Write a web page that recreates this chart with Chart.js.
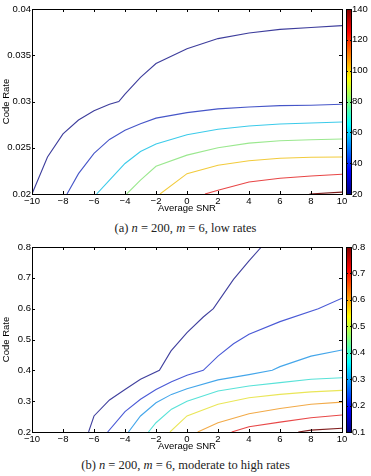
<!DOCTYPE html>
<html lang="en">

<head>
    <meta charset="UTF-8">
    <script src="https://cdn.jsdelivr.net/npm/chart.js"></script>
    <title>Code rate contours</title>
    <style>
        body { margin: 0; background: #fff; width: 371px; height: 476px; position: relative; overflow: hidden; }
        .plot { position: absolute; left: 0; width: 371px; height: 214px; }
        .caption { position: absolute; left: 0; width: 371px; text-align: center; font-family: "Liberation Serif", serif; font-size: 12.5px; color: #222; }
    </style>
</head>

<body>
    <div class="plot" style="top: 0px;"><canvas id="graficoA"></canvas></div>
    <div class="caption" style="top: 221px;">(a) <i>n</i> = 200, <i>m</i> = 6, low rates</div>
    <div class="plot" style="top: 238px;"><canvas id="graficoB"></canvas></div>
    <div class="caption" style="top: 458px;">(b) <i>n</i> = 200, <i>m</i> = 6, moderate to high rates</div>
</body>

</html>

<script>
    // (a) low rates - one pair of arrays per contour line
    var a1_snr = [-10, -9, -8, -7, -6, -5, -4.4, -4, -3, -2, 0, 2, 4, 6, 8, 10]
    var a1_rate = [0.02, 0.024, 0.0265, 0.028, 0.029, 0.0297, 0.030, 0.0308, 0.0326, 0.0341, 0.0357, 0.0368, 0.0374, 0.0378, 0.0380, 0.0382]
    var a2_snr = [-7.74, -7, -6, -5, -4, -3, -2, 0, 2, 4, 6, 8, 10]
    var a2_rate = [0.02, 0.0222, 0.0244, 0.0259, 0.0269, 0.0276, 0.0282, 0.0288, 0.0292, 0.0294, 0.02955, 0.0296, 0.0297]
    var a3_snr = [-5.83, -5, -4, -3, -2, 0, 2, 4, 6, 8, 10]
    var a3_rate = [0.02, 0.0215, 0.0233, 0.0246, 0.0254, 0.0264, 0.0270, 0.02735, 0.02757, 0.02768, 0.02778]
    var a4_snr = [-3.89, -3, -2, 0, 2, 4, 6, 8, 10]
    var a4_rate = [0.02, 0.0215, 0.0230, 0.0242, 0.0250, 0.0255, 0.02576, 0.02587, 0.02595]
    var a5_snr = [-1.74, 0, 2, 4, 6, 8, 10]
    var a5_rate = [0.02, 0.0222, 0.0231, 0.0236, 0.02386, 0.02397, 0.0240]
    var a6_snr = [1.16, 2, 4, 6, 8, 10]
    var a6_rate = [0.02, 0.0204, 0.0213, 0.0217, 0.02195, 0.02213]
    var a7_snr = [7.9, 10]
    var a7_rate = [0.02, 0.0202]
    var coresA = ['#3d3d9c', '#4656c8', '#3ccbea', '#9be88f', '#f2cb3c', '#e84646', '#7a1c1c']

    // (b) moderate to high rates
    var b1_snr = [-6.35, -6, -5, -4, -3, -1.78, -1.03, 0, 1.05, 1.7, 3, 4, 4.8]
    var b1_rate = [0.2, 0.252, 0.304, 0.338, 0.371, 0.4, 0.463, 0.522, 0.573, 0.6, 0.695, 0.755, 0.8]
    var b2_snr = [-5.12, -4, -3, -2, -1, 0, 1.05, 2, 3, 4, 6, 8.47, 10]
    var b2_rate = [0.2, 0.266, 0.306, 0.338, 0.363, 0.384, 0.4, 0.446, 0.486, 0.517, 0.558, 0.6, 0.634]
    var b3_snr = [-3.78, -3, -2, -1, 0, 2, 4, 5.5, 6, 8, 10]
    var b3_rate = [0.2, 0.252, 0.295, 0.322, 0.34, 0.369, 0.386, 0.4, 0.412, 0.446, 0.466]
    var b4_snr = [-2.49, -2, -1, 0, 2, 4, 6, 8, 10]
    var b4_rate = [0.2, 0.23, 0.274, 0.30, 0.333, 0.349, 0.36, 0.371, 0.376]
    var b5_snr = [-1.1, 0, 2, 4, 6, 8, 10]
    var b5_rate = [0.2, 0.252, 0.29, 0.311, 0.322, 0.33, 0.335]
    var b6_snr = [0.69, 2, 4, 6, 8, 10]
    var b6_rate = [0.2, 0.23, 0.259, 0.276, 0.29, 0.297]
    var b7_snr = [2.88, 4, 6, 8, 10]
    var b7_rate = [0.2, 0.217, 0.232, 0.246, 0.255]
    var b8_snr = [7.18, 8, 10]
    var b8_rate = [0.2, 0.206, 0.212]
    var coresB = ['#40409e', '#4a5ad6', '#44a6ea', '#58e2d8', '#eae658', '#f2aa48', '#e84848', '#801e1e']

    // eixos
    var snrTicks = [-10, -8, -6, -4, -2, 0, 2, 4, 6, 8, 10]
    var rateTicksA = [0.02, 0.025, 0.03, 0.035, 0.04]
    var rateTicksB = [0.2, 0.3, 0.4, 0.5, 0.6, 0.7, 0.8]
    var barraTicksA = [20, 40, 60, 80, 100, 120, 140]
    var barraTicksB = [0.1, 0.2, 0.3, 0.4, 0.5, 0.6, 0.7, 0.8]

    var fonte = { family: 'Liberation Sans', size: 9.5, lineHeight: 1 }

    function linha(xs, ys, cor) {
        return {
            data: xs.map((x, i) => ({ x: x, y: ys[i] })),
            borderColor: cor,
            borderWidth: 1.1,
            pointRadius: 0,
            fill: false,
            tension: 0
        }
    }

    function fixaTicks(lista) {
        return function (scale) {
            scale.ticks = lista.map(v => ({ value: v }))
        }
    }

    // moldura, ticks para dentro e barra de cores (jet)
    var molduraPlugin = {
        id: 'moldura',
        afterDraw(chart) {
            var ctx = chart.ctx, a = chart.chartArea, s = chart.scales
            ctx.save()
            ctx.strokeStyle = '#000'
            ctx.lineWidth = 1
            ctx.beginPath()
            s.x.ticks.forEach((t, i) => {
                var px = Math.round(s.x.getPixelForTick(i)) + 0.5
                ctx.moveTo(px, a.bottom); ctx.lineTo(px, a.bottom - 3)
                ctx.moveTo(px, a.top); ctx.lineTo(px, a.top + 3)
            })
            s.y.ticks.forEach((t, i) => {
                var py = Math.round(s.y.getPixelForTick(i)) + 0.5
                ctx.moveTo(a.left, py); ctx.lineTo(a.left + 3, py)
                ctx.moveTo(a.right, py); ctx.lineTo(a.right - 3, py)
            })
            ctx.stroke()
            ctx.strokeRect(Math.round(a.left) + 0.5, Math.round(a.top) + 0.5, Math.round(a.right - a.left), Math.round(a.bottom - a.top))

            // barra de cores
            var x0 = Math.round(a.right) + 4, w = 6
            var g = ctx.createLinearGradient(0, a.bottom, 0, a.top)
            g.addColorStop(0, '#000080')
            g.addColorStop(0.125, '#0000ff')
            g.addColorStop(0.375, '#00ffff')
            g.addColorStop(0.625, '#ffff00')
            g.addColorStop(0.875, '#ff0000')
            g.addColorStop(1, '#800000')
            ctx.fillStyle = g
            ctx.fillRect(x0, a.top, w, a.bottom - a.top)
            ctx.strokeStyle = '#000'
            ctx.strokeRect(x0 + 0.5, Math.round(a.top) + 0.5, w - 1, Math.round(a.bottom - a.top))
            ctx.beginPath()
            s.cb.ticks.forEach((t, i) => {
                var py = Math.round(s.cb.getPixelForTick(i)) + 0.5
                ctx.moveTo(x0, py); ctx.lineTo(x0 + 2, py)
                ctx.moveTo(x0 + w, py); ctx.lineTo(x0 + w - 2, py)
            })
            ctx.stroke()
            ctx.restore()
        }
    }

    function opcoes(yMin, yMax, yTicks, cbMin, cbMax, cbTicks) {
        return {
            responsive: true,
            maintainAspectRatio: false,
            animation: false,
            layout: { padding: { top: 9, left: 0, right: 0, bottom: 0 } },
            plugins: { legend: { display: false }, tooltip: { enabled: false } },
            scales: {
                x: {
                    type: 'linear',
                    min: -10,
                    max: 10,
                    afterBuildTicks: fixaTicks(snrTicks),
                    afterFit: s => { s.height = 20 },
                    grid: { drawOnChartArea: false, drawTicks: false },
                    border: { display: false },
                    ticks: {
                        color: '#000', font: fonte, padding: 3, maxRotation: 0,
                        callback: v => String(v).replace('-', '\u2212')
                    },
                    title: { display: true, text: 'Average SNR', color: '#000', font: fonte, padding: { top: 0, bottom: 1 } }
                },
                y: {
                    type: 'linear',
                    min: yMin,
                    max: yMax,
                    afterBuildTicks: fixaTicks(yTicks),
                    afterFit: s => { s.width = 32 },
                    grid: { drawOnChartArea: false, drawTicks: false },
                    border: { display: false },
                    ticks: { color: '#000', font: fonte, padding: 1, callback: v => String(+v.toFixed(3)) },
                    title: { display: true, text: 'Code Rate', color: '#000', font: fonte, padding: { top: 2, bottom: 0 } }
                },
                cb: {
                    type: 'linear',
                    position: 'right',
                    min: cbMin,
                    max: cbMax,
                    afterBuildTicks: fixaTicks(cbTicks),
                    afterFit: s => { s.width = 29 },
                    grid: { drawOnChartArea: false, drawTicks: true, tickLength: 10, color: 'transparent' },
                    border: { display: false },
                    ticks: { color: '#000', font: fonte, padding: 0, callback: v => String(+v.toFixed(2)) }
                }
            }
        }
    }

    var seriesA = [[a1_snr, a1_rate], [a2_snr, a2_rate], [a3_snr, a3_rate], [a4_snr, a4_rate], [a5_snr, a5_rate], [a6_snr, a6_rate], [a7_snr, a7_rate]]
    var graficoA = new Chart(document.getElementById('graficoA').getContext('2d'), {
        type: 'line',
        data: { datasets: seriesA.map((s, i) => linha(s[0], s[1], coresA[i])) },
        options: opcoes(0.02, 0.04, rateTicksA, 20, 140, barraTicksA),
        plugins: [molduraPlugin]
    });

    var seriesB = [[b1_snr, b1_rate], [b2_snr, b2_rate], [b3_snr, b3_rate], [b4_snr, b4_rate], [b5_snr, b5_rate], [b6_snr, b6_rate], [b7_snr, b7_rate], [b8_snr, b8_rate]]
    var graficoB = new Chart(document.getElementById('graficoB').getContext('2d'), {
        type: 'line',
        data: { datasets: seriesB.map((s, i) => linha(s[0], s[1], coresB[i])) },
        options: opcoes(0.2, 0.8, rateTicksB, 0.1, 0.8, barraTicksB),
        plugins: [molduraPlugin]
    });
</script>
